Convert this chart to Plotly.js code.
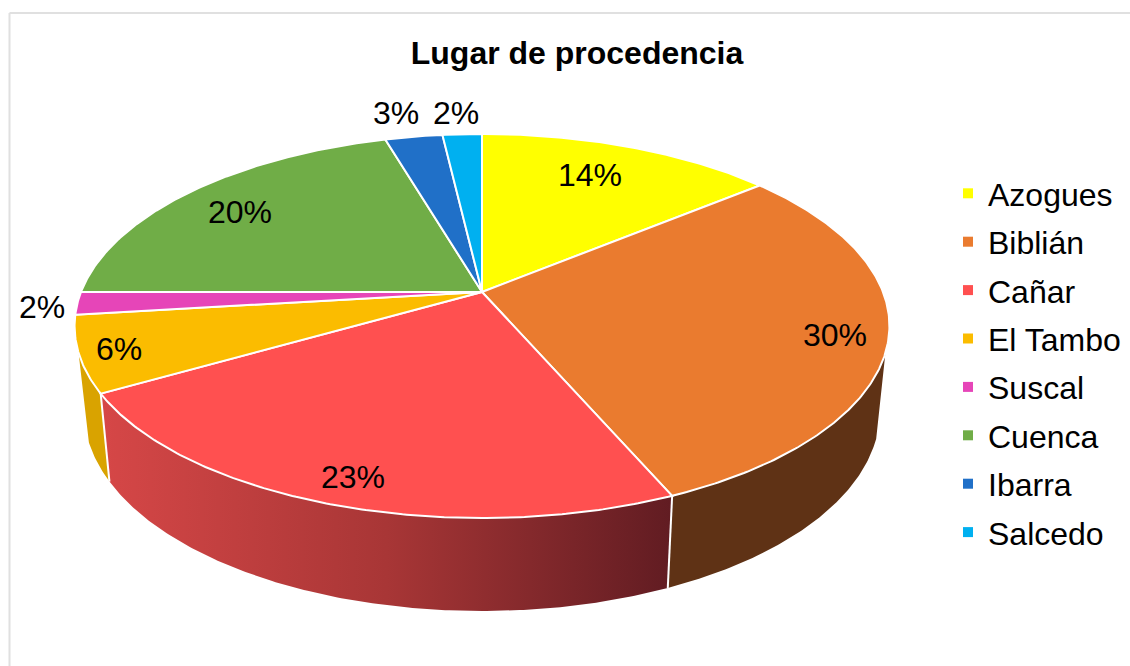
<!DOCTYPE html>
<html>
<head>
<meta charset="utf-8">
<script src="https://cdn.plot.ly/plotly-3.0.1.min.js"></script>
<style>html,body{margin:0;padding:0;background:#fff}#chart{width:1130px;height:666px}</style>
</head>
<body>
<div id="chart"></div>
<script>
// Data
const categories = ['Azogues','Biblián','Cañar','El Tambo','Suscal','Cuenca','Ibarra','Salcedo'];
const shares = [14.0, 29.5, 23.2, 6.4, 1.9, 20.45, 2.7, 1.85];

// Styles
const topColors = ['#FFFF00','#EA7B2F','#FF5050','#FBBC00','#E645B8','#70AD47','#2070C8','#00B0F0'];
const wallColors = [null,'#5F3215',null,'#D9A300',null,null,null,null];
const labelX = [590, 835, 353, 119, 42, 240, 396, 456];
const labelY = [175, 335, 477, 349, 307, 212, 113, 113];

// Perspective pie geometry (pixel space of the axes)
const cx = 482, cy = 292, A = 401, B = 186, k = 0.177, shrink = 0.977;
const wallFrom = 108, wallTo = 252;
const rad = d => d * Math.PI / 180;
function topPt(deg){
  const u = Math.sin(rad(deg)), v = Math.cos(rad(deg)), d = 1 + k * v;
  return [cx + A * u / d, cy - B * v / d];
}
function bottomPt(deg){
  const p = topPt(deg), v = Math.cos(rad(deg));
  return [cx + (p[0] - cx) * shrink, p[1] + 83 - 10 * v];
}
function arc(fn, a, b){
  const n = Math.max(2, Math.ceil(Math.abs(b - a) / 0.5)), out = [];
  for(let i = 0; i <= n; i++) out.push(fn(a + (b - a) * i / n));
  return out;
}
const total = shares.reduce((s, v) => s + v, 0);
let acc = 0;
const slices = shares.map(v => { const a = acc / total * 360; acc += v; return [a, acc / total * 360]; });

const traces = [];
// side walls
slices.forEach((s, i) => {
  const a = Math.max(s[0], wallFrom), b = Math.min(s[1], wallTo);
  if(a >= b) return;
  const pts = arc(topPt, a, b).concat(arc(bottomPt, b, a));
  pts.push(pts[0]);
  const t = {
    type:'scatter', mode:'lines', x:pts.map(p=>p[0]), y:pts.map(p=>p[1]),
    fill:'toself', line:{width:0}, hoverinfo:'skip', showlegend:false
  };
  if(wallColors[i]) t.fillcolor = wallColors[i];
  else t.fillgradient = {type:'horizontal', colorscale:[[0,'#D64747'],[0.5,'#A83636'],[1,'#611C22']]};
  traces.push(t);
});
// seams between walls
slices.forEach(s => {
  const e = s[1];
  if(e > wallFrom && e < wallTo){
    const p = topPt(e), q = bottomPt(e);
    traces.push({type:'scatter', mode:'lines', x:[p[0],q[0]], y:[p[1],q[1]],
      line:{color:'#FFFFFF', width:2}, hoverinfo:'skip', showlegend:false});
  }
});
// top faces
slices.forEach((s, i) => {
  const pts = [[cx,cy]].concat(arc(topPt, s[0], s[1]));
  pts.push([cx,cy]);
  traces.push({type:'scatter', mode:'lines', x:pts.map(p=>p[0]), y:pts.map(p=>p[1]),
    fill:'toself', fillcolor:topColors[i], line:{color:'#FFFFFF', width:2},
    name:categories[i], hoverinfo:'name', showlegend:false});
});
// legend entries
categories.forEach((c, i) => {
  traces.push({type:'scatter', mode:'markers', x:[null], y:[null], name:c, legendgroup:c,
    marker:{symbol:'square', size:10, color:topColors[i]}, showlegend:true});
});

const annotations = shares.map((v, i) => ({
  x:labelX[i], y:labelY[i], xref:'x', yref:'y', showarrow:false,
  xanchor:'center', yanchor:'middle', text:Math.round(v) + '%',
  font:{family:'"Liberation Sans", Arial, sans-serif', size:32, color:'#000'}
}));

const borderColor = '#E0E0E0';
const layout = {
  width:1130, height:666, margin:{l:0,r:0,t:0,b:0,autoexpand:false},
  paper_bgcolor:'#FFFFFF', plot_bgcolor:'#FFFFFF',
  font:{family:'"Liberation Sans", Arial, sans-serif', size:32, color:'#000'},
  title:{text:'<b>Lugar de procedencia</b>', x:577/1130, xref:'paper', xanchor:'center',
         y:1-53/666, yref:'paper', yanchor:'middle',
         font:{family:'"Liberation Sans", Arial, sans-serif', size:32, color:'#000'}},
  xaxis:{range:[0,1130], visible:false, fixedrange:true},
  yaxis:{range:[666,0], visible:false, fixedrange:true},
  legend:{x:948/1130, xanchor:'left', y:1-166/666, yanchor:'top', tracegroupgap:3.8,
          bgcolor:'rgba(0,0,0,0)', font:{family:'"Liberation Sans", Arial, sans-serif', size:32, color:'#000'}},
  annotations:annotations,
  shapes:[
    {type:'line', xref:'x', yref:'y', x0:9.5, y0:13, x1:9.5, y1:666, line:{color:borderColor,width:2}},
    {type:'line', xref:'x', yref:'y', x0:9.5, y0:13, x1:1130, y1:13, line:{color:borderColor,width:2}}
  ]
};
Plotly.newPlot('chart', traces, layout, {displayModeBar:false});
</script>
</body>
</html>
